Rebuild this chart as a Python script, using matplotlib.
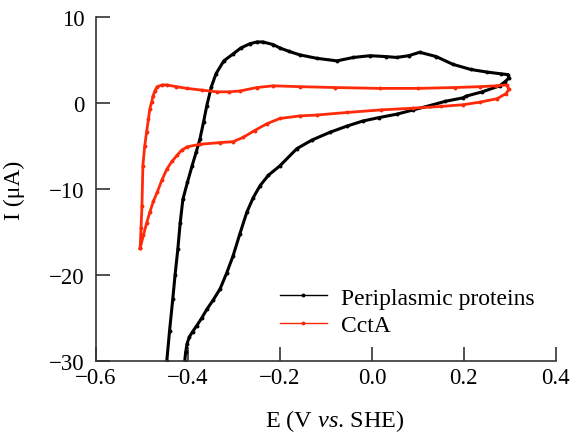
import matplotlib
matplotlib.use("Agg")
import matplotlib.pyplot as plt

plt.rcParams['font.family'] = ['Liberation Serif', 'DejaVu Serif']
plt.rcParams['mathtext.fontset'] = 'custom'
plt.rcParams['mathtext.rm'] = 'Liberation Serif'
plt.rcParams['mathtext.it'] = 'Liberation Serif:italic'

# periplasmic proteins CV, anodic then cathodic scan
peri_E = [-0.446, -0.440, -0.433, -0.428, -0.422, -0.417, -0.411, -0.401, -0.391, -0.382,
          -0.374, -0.366, -0.359, -0.349, -0.339, -0.322, -0.302, -0.285, -0.265, -0.250,
          -0.237, -0.215, -0.200, -0.180, -0.157, -0.120, -0.076, -0.040, -0.004, 0.030,
          0.054, 0.080, 0.104, 0.140, 0.176, 0.215, 0.250, 0.280, 0.296, 0.298,
          0.290, 0.278, 0.240, 0.205, 0.198, 0.160, 0.126, 0.090, 0.054, 0.015,
          -0.020, -0.055, -0.091, -0.130, -0.163, -0.200, -0.225, -0.243, -0.258, -0.272,
          -0.287, -0.302, -0.316, -0.330, -0.345, -0.359, -0.370, -0.381, -0.390, -0.397,
          -0.402, -0.405, -0.407]
peri_I = [-30.0, -26.5, -22.8, -20.0, -17.0, -14.0, -11.2, -9.2, -7.3, -5.7,
          -4.2, -2.2, -0.3, 1.9, 3.4, 4.9, 5.7, 6.4, 6.9, 7.1,
          7.1, 6.8, 6.4, 6.0, 5.6, 5.2, 4.9, 5.3, 5.5, 5.4,
          5.3, 5.5, 5.9, 5.4, 4.5, 3.9, 3.6, 3.4, 3.3, 2.9,
          2.5, 2.0, 1.3, 0.8, 0.6, 0.2, -0.3, -0.8, -1.3, -1.7,
          -2.1, -2.7, -3.4, -4.3, -5.3, -7.3, -8.4, -9.6, -11.0, -12.7,
          -15.2, -17.8, -19.8, -21.6, -22.9, -24.0, -25.0, -25.9, -26.6, -27.2,
          -28.0, -29.0, -30.0]

# CctA CV
ccta_E = [-0.504, -0.502, -0.500, -0.498, -0.494, -0.490, -0.486, -0.483, -0.479, -0.476,
          -0.472, -0.467, -0.456, -0.446, -0.425, -0.402, -0.370, -0.337, -0.310, -0.287,
          -0.250, -0.215, -0.157, -0.080, 0.017, 0.100, 0.180, 0.235, 0.270, 0.293,
          0.298, 0.292, 0.272, 0.235, 0.198, 0.150, 0.090, 0.020, -0.054, -0.120,
          -0.157, -0.200, -0.228, -0.255, -0.280, -0.302, -0.330, -0.374, -0.402, -0.414,
          -0.424, -0.435, -0.446, -0.457, -0.467, -0.475, -0.483, -0.490, -0.497, -0.504]
ccta_I = [-16.9, -14.5, -12.0, -7.3, -5.0, -3.4, -1.9, -0.7, 0.1, 0.8,
          1.4, 1.9, 2.1, 2.1, 1.9, 1.7, 1.5, 1.3, 1.3, 1.4,
          1.8, 2.0, 1.9, 1.8, 1.7, 1.7, 1.8, 1.9, 2.0, 2.1,
          1.6, 1.1, 0.5, 0.1, -0.2, -0.4, -0.6, -0.8, -1.1, -1.4,
          -1.5, -1.8, -2.4, -3.2, -4.0, -4.5, -4.6, -4.8, -5.1, -5.5,
          -6.1, -6.8, -7.7, -9.0, -10.4, -11.4, -12.7, -14.0, -15.4, -16.9]

xticks = [-0.6, -0.4, -0.2, 0.0, 0.2, 0.4]
yticks = [-30, -20, -10, 0, 10]

fig = plt.figure(figsize=(5.73, 4.35), dpi=100)
ax = fig.add_axes([0.1675, 0.1678, 0.8025, 0.7908])

ax.plot(peri_E, peri_I, 'o-', color='black', lw=2.2, ms=1.8, label='Periplasmic proteins')
ax.plot(ccta_E, ccta_I, 'o-', color='#ff2a0a', lw=2.0, ms=1.8, label='CctA')

ax.set_xlim(-0.6, 0.4)
ax.set_ylim(-30, 10)
ax.set_xticks(xticks)
ax.set_xticklabels(['\u22120.6', '\u22120.4', '\u22120.2', '0.0', '0.2', '0.4'])
ax.set_yticks(yticks)
ax.set_yticklabels(['\u221230', '\u221220', '\u221210', '0', '10'])
ax.tick_params(direction='in', length=10, width=1.2, color='#333333', labelsize=16.5)
ax.tick_params(axis='y', pad=8)
ax.tick_params(axis='x', pad=4)
for s in ['top', 'right']:
    ax.spines[s].set_visible(False)
for s in ['left', 'bottom']:
    ax.spines[s].set_linewidth(1.2)
    ax.spines[s].set_color('#333333')

ax.set_xlabel(r'E (V $\mathit{vs}$. SHE)', fontsize=17.5)
ax.xaxis.set_label_coords(0.52, -0.135)
ax.set_ylabel('I (\u03bcA)', fontsize=17)
ax.yaxis.set_label_coords(-0.155, 0.5)

leg = ax.legend(loc='lower right', frameon=False, fontsize=17, handlelength=2.0,
                handletextpad=0.6, labelspacing=0.25, borderaxespad=0.0,
                bbox_to_anchor=(0.975, 0.045))
for h in leg.legend_handles:
    h.set_linewidth(1.0)

fig.savefig('out.png', dpi=100)
